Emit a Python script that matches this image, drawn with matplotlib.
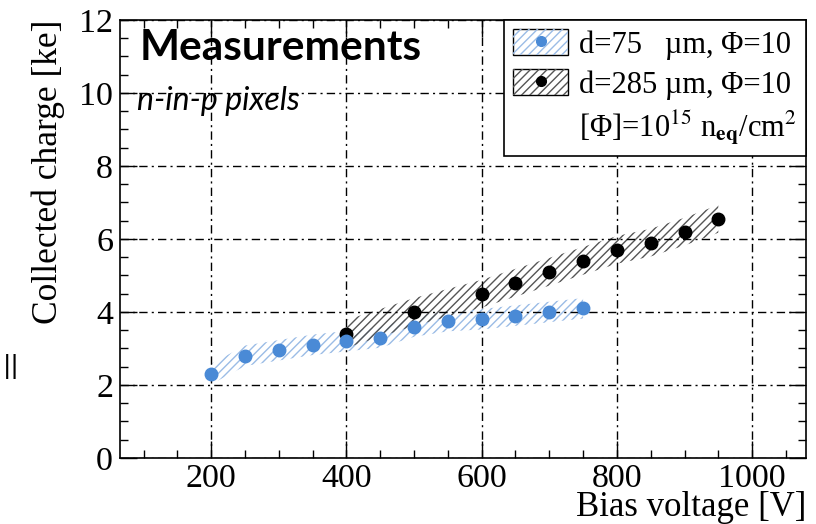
import matplotlib
matplotlib.use("Agg")
import matplotlib.pyplot as plt
from matplotlib.patches import Patch
from matplotlib.lines import Line2D
from matplotlib.legend_handler import HandlerTuple
from matplotlib.ticker import MultipleLocator
import numpy as np

# data
v_75 = [200, 250, 300, 350, 400, 450, 500, 550, 600, 650, 700, 750]
q_75 = [2.3, 2.8, 2.95, 3.1, 3.2, 3.3, 3.6, 3.75, 3.8, 3.9, 4.0, 4.1]
err_75 = 0.28

v_285 = [400, 500, 600, 650, 700, 750, 800, 850, 900, 950]
q_285 = [3.4, 4.0, 4.5, 4.8, 5.1, 5.4, 5.7, 5.9, 6.2, 6.55]
err_285 = 0.38

blue = "#4a8ad6"
blue_hatch = "#9bbce6"
black_hatch = "#555555"

plt.rcParams["font.family"] = ["Liberation Serif", "DejaVu Serif"]
plt.rcParams["mathtext.fontset"] = "stix"
plt.rcParams["hatch.linewidth"] = 1.0

fig = plt.figure(figsize=(8.16, 5.24), dpi=100)
ax = fig.add_axes([0.147, 0.126, 0.841, 0.836])

# hatched bands
ax.fill_between(v_75, np.array(q_75) - err_75, np.array(q_75) + err_75,
                facecolor="none", edgecolor=blue_hatch, hatch="////", linewidth=0)
ax.fill_between(v_285, np.array(q_285) - err_285, np.array(q_285) + err_285,
                facecolor="none", edgecolor=black_hatch, hatch="////", linewidth=0)

ax.plot(v_285, q_285, "o", color="black", markersize=9, zorder=3)
ax.plot(v_75, q_75, "o", color=blue, markersize=9, zorder=4)

ax.set_xlim(65, 1080)
ax.set_ylim(0, 12)
ax.xaxis.set_major_locator(MultipleLocator(200))
ax.xaxis.set_minor_locator(MultipleLocator(50))
ax.yaxis.set_major_locator(MultipleLocator(2))
ax.yaxis.set_minor_locator(MultipleLocator(0.5))
ax.tick_params(which="both", direction="in", top=True, right=True, labelsize=24.5)
ax.tick_params(which="major", length=12, width=1)
ax.tick_params(which="minor", length=6, width=1)
ax.tick_params(axis="x", pad=4)
ax.tick_params(axis="y", pad=5)

ax.grid(True, which="major", color="black", linewidth=1.0, dashes=(6, 3, 1.5, 3))

for s in ax.spines.values():
    s.set_linewidth(1.2)

ax.set_ylabel("Collected charge [ke]", fontsize=25.5, loc="top", labelpad=10)
ax.set_xlabel("Bias voltage [V]", fontsize=25, loc="right", labelpad=-2)

ax.text(0.028, 0.935, "Measurements", transform=ax.transAxes, fontsize=30.5,
        fontweight="bold", family="Lato", va="center")
ax.text(0.025, 0.815, "n-in-p pixels", transform=ax.transAxes, fontsize=23,
        style="italic", family="Lato", va="center")

fig.text(0.004, 0.3, "||", fontsize=18, family="DejaVu Sans", va="center")

# legend
frame = Patch(facecolor="white", edgecolor="black", linewidth=1)
h1 = (frame, Patch(facecolor="none", edgecolor=blue_hatch, hatch="////", linewidth=0),
      Line2D([], [], marker="o", color=blue, linestyle="none", markersize=7))
h2 = (frame, Patch(facecolor="none", edgecolor=black_hatch, hatch="////", linewidth=0),
      Line2D([], [], marker="o", color="black", linestyle="none", markersize=7))
h3 = Patch(facecolor="none", edgecolor="none")
leg = ax.legend([h1, h2, h3],
                ["d=75   µm, Φ=10", "d=285 µm, Φ=10",
                 r"[Φ]=10$^{15}$ n$_{\mathbf{eq}}$/cm$^{2}$"],
                handler_map={tuple: HandlerTuple(ndivide=1, pad=0)},
                loc="upper right", fontsize=22, fancybox=False, framealpha=1,
                edgecolor="black", borderaxespad=0, handlelength=1.8,
                handleheight=0.95, labelspacing=0.3, handletextpad=0.35,
                borderpad=0.3)
leg.get_frame().set_linewidth(1.2)

fig.savefig("out.png", dpi=100)
